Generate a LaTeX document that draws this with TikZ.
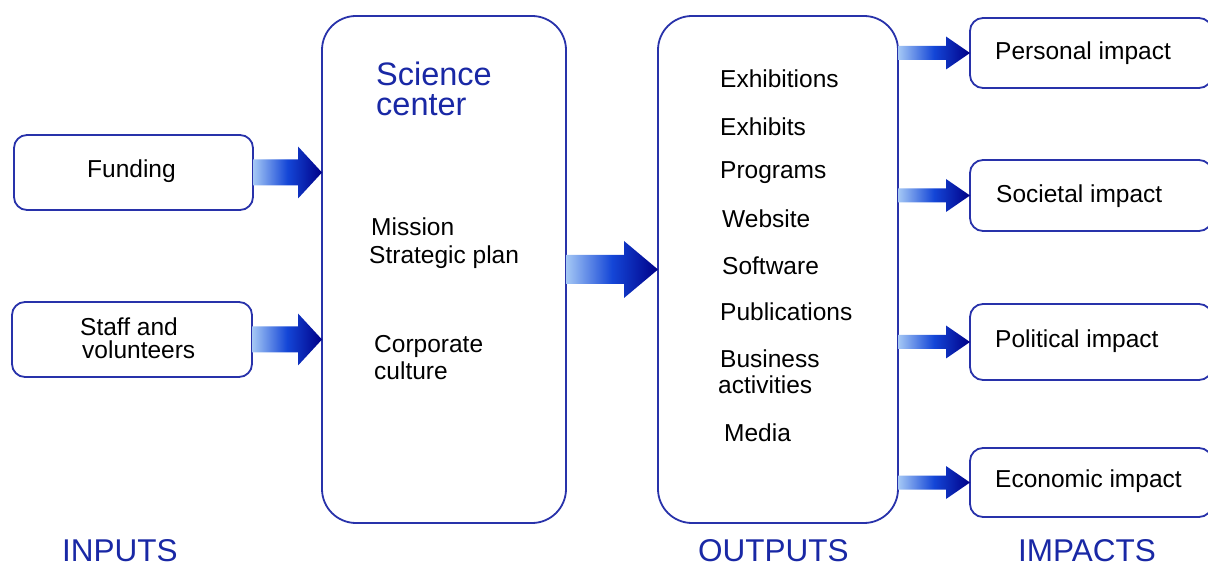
\documentclass[tikz,border=0pt]{standalone}
\usepackage{fontspec}
\setmainfont{Liberation Sans}
\usetikzlibrary{calc}
\definecolor{boxblue}{RGB}{40,50,170}
\definecolor{txtblue}{RGB}{25,40,165}
\definecolor{arrL}{RGB}{165,200,245}
\definecolor{arrM}{RGB}{20,70,215}
\definecolor{arrR}{RGB}{0,0,135}
% #1 start, #2 tip, #3 shaft half width, #4 head half width, #5 head length
\newcommand\fatarrow[5]{%
  \shade[left color=arrL, right color=arrR, middle color=arrM]
    let \p1=#1, \p2=#2 in
    (\x1,\y1+#3) -- (\x2-#5,\y1+#3) -- (\x2-#5,\y1+#4) -- (\x2,\y2)
    -- (\x2-#5,\y1-#4) -- (\x2-#5,\y1-#3) -- (\x1,\y1-#3) -- cycle;}
\begin{document}
\begin{tikzpicture}[x=1pt,y=-1pt,
  box/.style={draw=boxblue, line width=1.8pt, rounded corners=13pt, fill=white,
              inner sep=0pt, outer sep=0pt},
  bigbox/.style={box, rounded corners=34pt},
  lbl/.style={anchor=base west, inner sep=0pt, font=\fontsize{24.5}{27}\selectfont},
  ttl/.style={anchor=base west, inner sep=0pt, text=txtblue, font=\fontsize{31.5}{34}\selectfont}]
\useasboundingbox (0,0) rectangle (1208,569);

% boxes
\node[box, minimum width=239pt, minimum height=75pt] (fund)  at (133.5,172.5) {};
\node[box, minimum width=240pt, minimum height=75pt] (staff) at (132,339.5) {};
\node[bigbox, minimum width=244pt, minimum height=507pt] (sci) at (444,269.5) {};
\node[bigbox, minimum width=240pt, minimum height=507pt] (out) at (778,269.5) {};
\node[box, minimum width=242pt, minimum height=70pt] (pers) at (1091,53) {};
\node[box, minimum width=242pt, minimum height=71pt] (soc)  at (1091,195.5) {};
\node[box, minimum width=242pt, minimum height=76pt] (pol)  at (1091,342) {};
\node[box, minimum width=242pt, minimum height=69pt] (eco)  at (1091,482.5) {};

% arrows
\fatarrow{(fund.east)}{(sci.west|-fund.east)}{13pt}{26pt}{24pt}
\fatarrow{(staff.east)}{(sci.west|-staff.east)}{13pt}{26pt}{24pt}
\fatarrow{(sci.east)}{(out.west)}{14.5pt}{28.5pt}{34pt}
\fatarrow{(out.east|-pers.west)}{(pers.west)}{7pt}{16.5pt}{24pt}
\fatarrow{(out.east|-soc.west)}{(soc.west)}{7pt}{16.5pt}{24pt}
\fatarrow{(out.east|-pol.west)}{(pol.west)}{7pt}{16.5pt}{24pt}
\fatarrow{(out.east|-eco.west)}{(eco.west)}{7pt}{16.5pt}{24pt}

% texts
\node[lbl] (tfund) at (87,178) {Funding};
\node[lbl] (tstaff1) at (80,336) {Staff and};
\node[lbl] (tstaff2) at (82,359) {volunteers};

\node[ttl, font=\fontsize{32.5}{35}\selectfont] (tsci1) at (376,86) {Science};
\node[ttl, font=\fontsize{32.5}{35}\selectfont] (tsci2) at (376,116) {center};
\node[lbl] (tmis) at (371,236) {Mission};
\node[lbl] (tstr) at (369,264) {Strategic plan};
\node[lbl] (tcor1) at (374,353) {Corporate};
\node[lbl] (tcor2) at (374,380) {culture};

\node[lbl] (o1) at (720,88) {Exhibitions};
\node[lbl] (o2) at (720,136) {Exhibits};
\node[lbl] (o3) at (720,179) {Programs};
\node[lbl] (o4) at (722,228) {Website};
\node[lbl] (o5) at (722,275) {Software};
\node[lbl] (o6) at (720,321) {Publications};
\node[lbl] (o7) at (720,368) {Business};
\node[lbl] (o8) at (718,394) {activities};
\node[lbl] (o9) at (724,441) {Media};

\node[lbl] (tpers) at (995,60) {Personal impact};
\node[lbl] (tsoc) at (996,203) {Societal impact};
\node[lbl] (tpol) at (995,348) {Political impact};
\node[lbl] (teco) at (995,487) {Economic impact};

\node[ttl] (tin) at (62,561) {INPUTS};
\node[ttl] (tout) at (698,561) {OUTPUTS};
\node[ttl] (timp) at (1018,561) {IMPACTS};
\end{tikzpicture}
\end{document}
